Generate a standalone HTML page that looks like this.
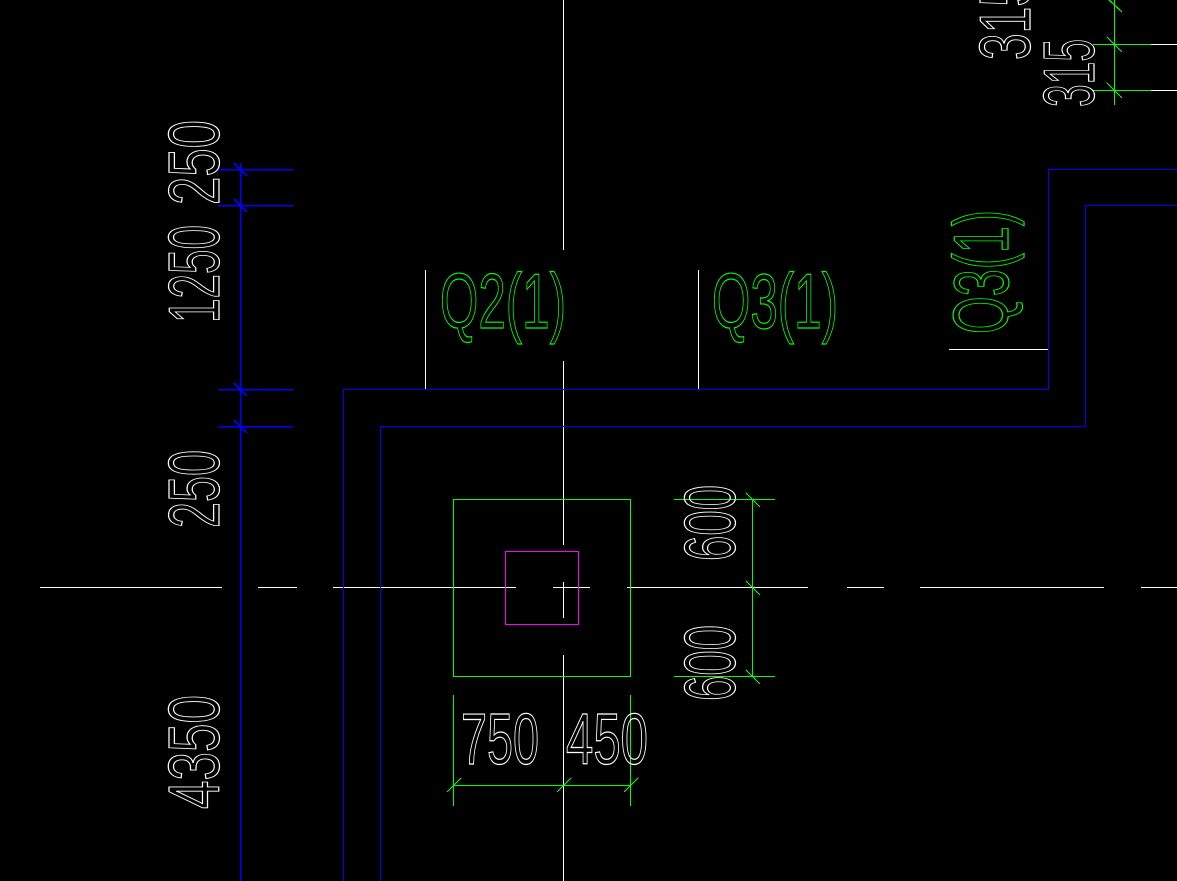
<!DOCTYPE html>
<html><head><meta charset="utf-8"><style>html,body{margin:0;padding:0;background:#000;overflow:hidden}svg{display:block}</style></head>
<body>
<svg width="1177" height="881" viewBox="0 0 1177 881" xmlns="http://www.w3.org/2000/svg" shape-rendering="crispEdges">
<rect width="1177" height="881" fill="#000"/>
<g stroke="#fff" stroke-width="1.2" fill="none">
<!-- vertical centerline -->
<line x1="563.5" y1="0" x2="563.5" y2="250"/>
<line x1="563.5" y1="361" x2="563.5" y2="545"/>
<line x1="563.5" y1="582" x2="563.5" y2="618"/>
<line x1="563.5" y1="655" x2="563.5" y2="881"/>
<!-- horizontal centerline -->
<line x1="40" y1="587.5" x2="222" y2="587.5"/>
<line x1="258" y1="587.5" x2="297" y2="587.5"/>
<line x1="333" y1="587.5" x2="516" y2="587.5"/>
<line x1="553" y1="587.5" x2="590" y2="587.5"/>
<line x1="627" y1="587.5" x2="808" y2="587.5"/>
<line x1="847" y1="587.5" x2="884" y2="587.5"/>
<line x1="920" y1="587.5" x2="1104" y2="587.5"/>
<line x1="1141" y1="587.5" x2="1177" y2="587.5"/>
<!-- leaders -->
<line x1="425.5" y1="270" x2="425.5" y2="389"/>
<line x1="698.5" y1="270" x2="698.5" y2="389"/>
<line x1="949" y1="349.5" x2="1048" y2="349.5"/>
<line x1="1151" y1="44.5" x2="1177" y2="44.5"/>
<line x1="1151" y1="90.5" x2="1177" y2="90.5"/>
</g>
<g stroke="#0000ff" stroke-width="1.5" fill="none">
<line x1="240.5" y1="163" x2="240.5" y2="881"/>
<line x1="218" y1="169.5" x2="293" y2="169.5"/>
<line x1="218" y1="205.5" x2="293" y2="205.5"/>
<line x1="219" y1="389.5" x2="293" y2="389.5"/>
<line x1="218" y1="426.5" x2="293" y2="426.5"/>
<line x1="234" y1="163" x2="247" y2="176"/>
<line x1="234" y1="199" x2="247" y2="212"/>
<line x1="234" y1="383" x2="247" y2="396"/>
<line x1="234" y1="420" x2="247" y2="433"/>
<polyline points="343.5,881 343.5,389.5 1048.5,389.5 1048.5,169.5 1177,169.5" stroke-width="1.2"/>
<polyline points="380.5,881 380.5,426.5 1085.5,426.5 1085.5,205.5 1177,205.5" stroke-width="1.2"/>
</g>
<rect x="453.5" y="499.5" width="177" height="177" fill="none" stroke="#00ff00" stroke-width="1.2"/>
<rect x="505.5" y="551.5" width="73" height="73" fill="none" stroke="#ff00ff" stroke-width="1.2"/>
<g stroke="#00ff00" stroke-width="1.2" fill="none">
<line x1="752.5" y1="499" x2="752.5" y2="676"/>
<line x1="674" y1="499.5" x2="775" y2="499.5"/>
<line x1="674" y1="676.5" x2="775" y2="676.5"/>
<line x1="746" y1="493" x2="760" y2="507"/>
<line x1="746" y1="581" x2="760" y2="595"/>
<line x1="746" y1="670" x2="760" y2="684"/>
<line x1="453" y1="785.5" x2="630" y2="785.5"/>
<line x1="453.5" y1="695" x2="453.5" y2="806"/>
<line x1="630.5" y1="695" x2="630.5" y2="806"/>
<line x1="447" y1="792" x2="461" y2="778"/>
<line x1="557" y1="792" x2="571" y2="778"/>
<line x1="624" y1="792" x2="638" y2="778"/>
<line x1="1114.5" y1="0" x2="1114.5" y2="105"/>
<line x1="1093" y1="44.5" x2="1151" y2="44.5"/>
<line x1="1093" y1="90.5" x2="1151" y2="90.5"/>
<line x1="1107" y1="37" x2="1122" y2="52"/>
<line x1="1107" y1="83" x2="1122" y2="98"/>
<line x1="1107" y1="-2" x2="1122" y2="12"/>
</g>
<g font-family="'Liberation Sans', sans-serif" font-size="72" fill="none" stroke="#fff" stroke-width="1.2" lengthAdjust="spacingAndGlyphs" shape-rendering="auto">
<text transform="translate(219,205) rotate(-90)" textLength="85" lengthAdjust="spacingAndGlyphs">250</text>
<text transform="translate(219,323) rotate(-90)" textLength="98" lengthAdjust="spacingAndGlyphs">1250</text>
<text transform="translate(219,528) rotate(-90)" textLength="78" lengthAdjust="spacingAndGlyphs">250</text>
<text transform="translate(219,809) rotate(-90)" textLength="114" lengthAdjust="spacingAndGlyphs">4350</text>
<text transform="translate(735,561) rotate(-90)" textLength="76" lengthAdjust="spacingAndGlyphs">600</text>
<text transform="translate(735,701) rotate(-90)" textLength="76" lengthAdjust="spacingAndGlyphs">600</text>
<text transform="translate(1030,60) rotate(-90)" textLength="80" lengthAdjust="spacingAndGlyphs">315</text>
<text transform="translate(1094,107) rotate(-90)" textLength="68" lengthAdjust="spacingAndGlyphs">315</text>
<text x="461" y="764" textLength="78" lengthAdjust="spacingAndGlyphs">750</text>
<text x="566" y="764" textLength="82" lengthAdjust="spacingAndGlyphs">450</text>
</g>
<g font-family="'Liberation Sans', sans-serif" font-size="78" fill="none" stroke="#00ff00" stroke-width="1.2" shape-rendering="auto">
<text x="440" y="328" textLength="126" lengthAdjust="spacingAndGlyphs">Q2(1)</text>
<text x="712" y="328" textLength="126" lengthAdjust="spacingAndGlyphs">Q3(1)</text>
<text transform="translate(1008,334) rotate(-90)" textLength="124" lengthAdjust="spacingAndGlyphs">Q3(1)</text>
</g>
</svg>
</body></html>
